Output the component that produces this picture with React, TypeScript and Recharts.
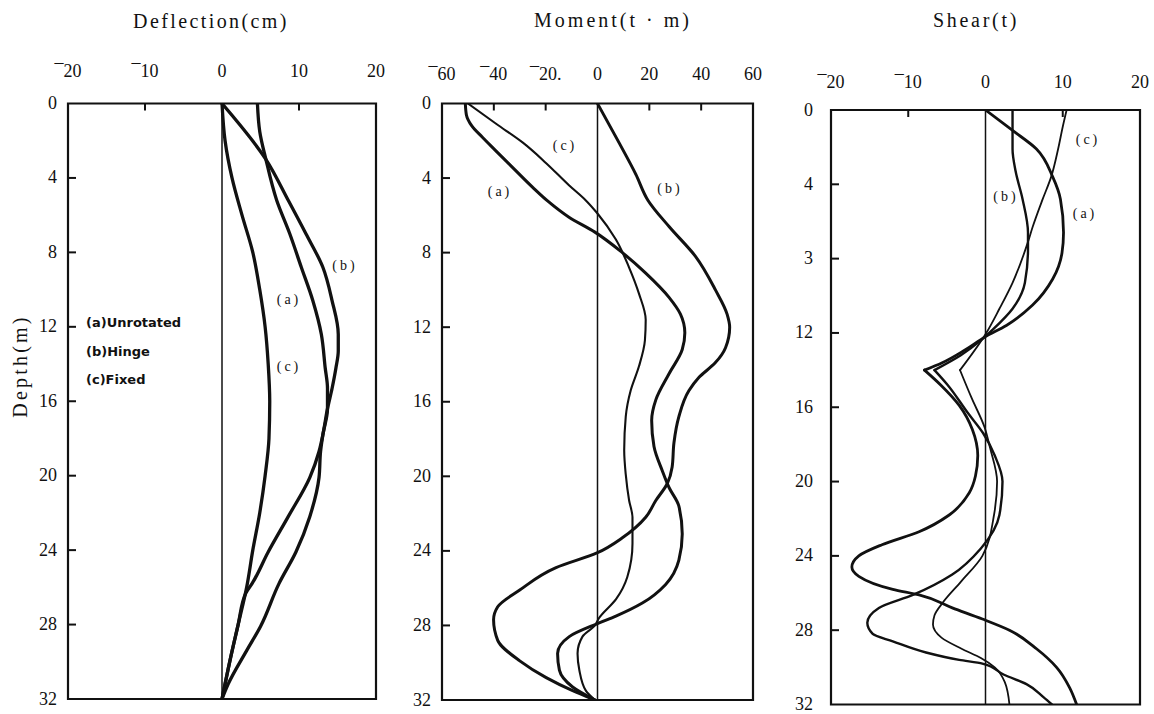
import React from 'react';
import { LineChart, Line, XAxis, YAxis, ReferenceLine, ReferenceArea } from 'recharts';

// ---------- axis ticks & labels ----------
const depthTicks = [0, 4, 8, 12, 16, 20, 24, 28, 32];
const depthTickLabels = ['0', '4', '8', '12', '16', '20', '24', '28', '32'];
const shearDepthTickLabels = ['0', '4', '3', '12', '16', '20', '24', '28', '32'];

const deflTicks = [-20, -10, 0, 10, 20];
const deflTickLabels = ['\u00AF20', '\u00AF10', '0', '10', '20'];
const momentTicks = [-60, -40, -20, 0, 20, 40, 60];
const momentTickLabels = ['\u00AF60', '\u00AF40', '\u00AF20.', '0', '20', '40', '60'];
const shearTicks = [-20, -10, 0, 10, 20];
const shearTickLabels = ['\u00AF20', '\u00AF10', '0', '10', '20'];

const titles = ['Deflection(cm)', 'Moment(t \u00B7 m)', 'Shear(t)'];
const legendLines = ['(a)Unrotated', '(b)Hinge', '(c)Fixed'];

// ---------- Deflection (cm) ----------
const deflDepthA = [0, 1.5, 3, 5.2, 7, 8.8, 10.6, 12.4, 14.2, 15.3, 16.4, 17.8, 18.7, 20.1, 22.2, 24.1, 25.8, 28.1, 29.4, 31.2, 32];
const deflA = [4.6, 4.9, 5.7, 7.1, 8.8, 10.3, 11.8, 12.9, 13.4, 13.7, 13.7, 13.1, 12.8, 12.6, 11.4, 9.6, 7.4, 5.0, 3.2, 0.8, 0];
const deflDepthB = [0, 3, 5.2, 7, 8.8, 10.6, 12.4, 13.3, 14.2, 15.3, 16.4, 17.8, 18.7, 20.1, 22.2, 24.1, 25.8, 26.3, 28, 30, 32];
const deflB = [0, 5.7, 8.6, 10.9, 13.1, 14.3, 15.1, 15.1, 14.8, 14.3, 13.7, 13.1, 12.6, 11.4, 8.6, 6.0, 3.9, 3.1, 2.1, 1.0, 0];
const deflDepthC = [0, 2, 4, 6, 8, 10, 12, 14, 16, 18, 20, 22, 24, 26, 28, 30, 32];
const deflC = [0, 0.4, 1.3, 2.6, 4.0, 4.9, 5.6, 6.0, 6.2, 6.1, 5.6, 4.9, 4.0, 3.2, 2.1, 1.0, 0];

// ---------- Moment (t·m) ----------
const momDepthA = [0, 0.6, 1.2, 1.8, 2.5, 3.4, 4.5, 5.2, 6.1, 6.9, 8.0, 9.1, 10.4, 11.3, 12.3, 13.2, 14.5, 15.9, 17.0, 18.4, 19.7, 20.6, 21.6, 23.1, 24.5, 25.8, 26.8, 27.5, 27.9, 28.6, 29.5, 30.4, 31.3, 32];
const momA = [-51, -50.6, -48.5, -44.5, -39.5, -33, -25, -19.5, -11, -1, 9.6, 18.6, 27.6, 32, 33.7, 32.7, 27.6, 22.5, 20.9, 21.8, 25, 27.6, 31.4, 32.7, 31.4, 26.3, 17.3, 7.1, 0, -10.9, -15.4, -14.7, -9.6, -1];
const momDepthB = [0, 2.1, 3.8, 5.2, 6.6, 8.2, 10.0, 11.3, 12.0, 13.1, 13.9, 14.7, 15.4, 16.8, 18.2, 19.5, 20.4, 21.3, 22.2, 23.3, 24.1, 24.9, 26.1, 27.0, 27.7, 28.8, 29.9, 30.8, 31.5, 32];
const momB = [0, 8.3, 14.8, 19.5, 27.6, 37.8, 45.5, 50, 51, 49.4, 45.5, 39.1, 35.3, 31.4, 29.5, 28.8, 26.9, 22.5, 18.6, 9.6, 0, -16, -30, -38.5, -40.1, -38.5, -30, -19.8, -9.6, -1];
const momDepthC = [0, 1.1, 2.1, 3.2, 4.4, 5.2, 5.9, 7.3, 8.8, 10.2, 11.6, 12.7, 14.1, 15.4, 16.8, 18.6, 19.9, 21.3, 22.2, 23.6, 25.4, 26.6, 27.6, 28.0, 28.6, 29.5, 30.4, 31.5, 32];
const momC = [-50, -39, -28.8, -19.8, -10.9, -4.5, 0, 7.1, 12.2, 16, 18.6, 18.3, 16, 12.8, 10.9, 10.3, 10.9, 12.2, 13.5, 13.5, 11.5, 7.1, 0.6, -1, -5.8, -7.7, -7, -4.5, -1];

// ---------- Shear (t) ----------
const shearDepthA = [0, 1.1, 2.1, 3.6, 4.8, 6.6, 7.7, 9.1, 10.5, 11.6, 12.2, 12.9, 13.6, 14.0, 14.8, 15.9, 17.2, 18.6, 19.7, 20.6, 21.8, 22.7, 23.4, 24.0, 24.6, 25.1, 25.8, 26.1, 26.8, 27.4, 28.0, 29.0, 30.0, 31.1, 32];
const shearA = [0, 3.5, 6.6, 8.7, 9.7, 10.1, 9.9, 8.7, 6.1, 2.7, 0, -2.6, -5.6, -7.9, -5.8, -3.4, -1.7, -1.0, -1.3, -2.1, -4.7, -8.6, -13.4, -16.4, -17.3, -16.4, -12, -8.6, -4.3, -0.4, 3.1, 6.6, 9.2, 10.9, 11.8];
const shearDepthB = [0, 2.1, 3.3, 4.8, 6.6, 7.5, 9.3, 10.7, 11.8, 12.4, 13.2, 14.0, 14.8, 16.3, 17.4, 18.6, 20.0, 21.8, 23.6, 25.0, 26.1, 26.8, 27.6, 28.2, 28.6, 29.2, 29.6, 29.8, 30.4, 30.9, 31.6, 32];
const shearB = [3.5, 3.5, 3.9, 4.8, 5.5, 5.5, 5.1, 3.5, 1.0, -0.6, -3.2, -6.6, -4.9, -2.3, -0.3, 1.2, 2.2, 1.8, -0.6, -4.3, -9.4, -13.8, -15.3, -14.6, -12, -7.7, -3.4, -0.4, 2.4, 5.3, 7.5, 8.6];
const shearDepthC = [0, 0.9, 2.1, 3.6, 4.8, 6.3, 7.1, 9.3, 10.7, 12.0, 14.0, 15.5, 17.1, 18.2, 20.0, 21.8, 24.0, 25.4, 26.5, 27.2, 27.7, 28.4, 29.0, 29.5, 30.0, 30.8, 32];
const shearC = [10.5, 10.0, 9.4, 8.5, 7.4, 6.1, 5.5, 3.5, 1.8, 0.1, -3.3, -1.8, -0.1, 0.6, 1.5, 1.1, -0.4, -3.2, -5.5, -6.6, -6.8, -5.7, -3.1, -0.6, 1.2, 2.5, 3.1];
const shearKinkDepth = 14.0;

// ---------- helpers ----------
type Pt = { d: number; v: number };
const pts = (ds: number[], vs: number[]): Pt[] => ds.map((d, i) => ({ d, v: vs[i] }));
const splitAt = (p: Pt[], depth: number): Pt[][] => [p.filter((q) => q.d <= depth), p.filter((q) => q.d >= depth)];

const SERIF = "'Liberation Serif', 'Times New Roman', 'DejaVu Serif', serif";
const SANS = "'DejaVu Sans', 'Liberation Sans', sans-serif";
const INK = '#111';

type Series = { data: Pt[]; w: number };

type PanelProps = {
  margin: { top: number; right: number; bottom: number; left: number };
  xDomain: [number, number];
  xTicks: number[];
  xLabels: string[];
  innerXTicks: number[];
  yLabels: string[];
  yGap: number;
  xGap: number;
  series: Series[];
};

function Panel({ margin, xDomain, xTicks, xLabels, innerXTicks, yLabels, yGap, xGap, series }: PanelProps) {
  const renderXTick = (p: any) => {
    const val = p.payload.value;
    const i = xTicks.indexOf(val);
    const top = p.y + xGap;
    return (
      <g>
        {innerXTicks.includes(val) && (
          <line x1={p.x} x2={p.x} y1={top} y2={top + 7} stroke={INK} strokeWidth={2} />
        )}
        <text x={p.x} y={p.y} textAnchor="middle" fontFamily={SERIF} fontSize={18} fill={INK}>
          {xLabels[i]}
        </text>
      </g>
    );
  };
  const renderYTick = (p: any) => {
    const val = p.payload.value;
    const i = depthTicks.indexOf(val);
    const left = p.x + yGap;
    return (
      <g>
        {val !== 0 && val !== 32 && (
          <line x1={left} x2={left + 8} y1={p.y} y2={p.y} stroke={INK} strokeWidth={2} />
        )}
        <text x={p.x} y={p.y + 5.5} textAnchor="end" fontFamily={SERIF} fontSize={18} fill={INK}>
          {yLabels[i]}
        </text>
      </g>
    );
  };
  return (
    <div style={{ position: 'absolute', left: 0, top: 0 }}>
      <LineChart width={1154} height={714} layout="vertical" margin={margin}>
        <XAxis
          type="number"
          orientation="top"
          domain={xDomain}
          ticks={xTicks}
          interval={0}
          allowDataOverflow
          axisLine={false}
          tickLine={false}
          tickSize={0}
          tickMargin={xGap}
          height={30}
          tick={renderXTick}
        />
        <YAxis
          type="number"
          dataKey="d"
          domain={[0, 32]}
          ticks={depthTicks}
          interval={0}
          allowDataOverflow
          axisLine={false}
          tickLine={false}
          tickSize={0}
          tickMargin={yGap}
          width={60}
          tick={renderYTick}
        />
        <ReferenceArea
          x1={xDomain[0]}
          x2={xDomain[1]}
          y1={0}
          y2={32}
          fill="#fff"
          fillOpacity={0}
          stroke={INK}
          strokeWidth={2.2}
          ifOverflow="visible"
        />
        <ReferenceLine x={0} stroke={INK} strokeWidth={1.5} ifOverflow="visible" />
        {series.map((s, k) => (
          <Line
            key={k}
            data={s.data}
            dataKey="v"
            type="monotone"
            stroke={INK}
            strokeWidth={s.w}
            strokeLinejoin="round"
            strokeLinecap="round"
            dot={false}
            activeDot={false}
            isAnimationActive={false}
          />
        ))}
      </LineChart>
    </div>
  );
}

export default function App() {
  const deflSeries: Series[] = [
    { data: pts(deflDepthA, deflA), w: 3.3 },
    { data: pts(deflDepthB, deflB), w: 3.3 },
    { data: pts(deflDepthC, deflC), w: 3.3 },
  ];
  const momSeries: Series[] = [
    { data: pts(momDepthA, momA), w: 3 },
    { data: pts(momDepthB, momB), w: 3 },
    { data: pts(momDepthC, momC), w: 2.1 },
  ];
  const [sa1, sa2] = splitAt(pts(shearDepthA, shearA), shearKinkDepth);
  const [sb1, sb2] = splitAt(pts(shearDepthB, shearB), shearKinkDepth);
  const [sc1, sc2] = splitAt(pts(shearDepthC, shearC), shearKinkDepth);
  const shearSeries: Series[] = [
    { data: sa1, w: 2.8 },
    { data: sa2, w: 2.8 },
    { data: sb1, w: 2.4 },
    { data: sb2, w: 2.4 },
    { data: sc1, w: 1.8 },
    { data: sc2, w: 1.8 },
  ];

  const curveLabel = (x: number, y: number, t: string) => (
    <text x={x} y={y + 5} textAnchor="middle" fontFamily={SERIF} fontSize={14} letterSpacing={3} fill={INK}>
      {t}
    </text>
  );

  return (
    <div style={{ position: 'absolute', left: 0, top: 0, width: 1154, height: 714, background: '#fff', overflow: 'hidden' }}>
      <Panel
        margin={{ top: 73.5, right: 778, bottom: 15, left: 8 }}
        xDomain={[-20, 20]}
        xTicks={deflTicks}
        xLabels={deflTickLabels}
        innerXTicks={[-10, 10]}
        yLabels={depthTickLabels}
        yGap={11}
        xGap={27}
        series={deflSeries}
      />
      <Panel
        margin={{ top: 73.5, right: 401, bottom: 14, left: 382 }}
        xDomain={[-60, 60]}
        xTicks={momentTicks}
        xLabels={momentTickLabels}
        innerXTicks={[-40, -20, 20, 40]}
        yLabels={depthTickLabels}
        yGap={11}
        xGap={24}
        series={momSeries}
      />
      <Panel
        margin={{ top: 80, right: 14, bottom: 9.5, left: 771 }}
        xDomain={[-20, 20]}
        xTicks={shearTicks}
        xLabels={shearTickLabels}
        innerXTicks={[-10, 10]}
        yLabels={shearDepthTickLabels}
        yGap={18}
        xGap={22}
        series={shearSeries}
      />
      <svg width={1154} height={714} style={{ position: 'absolute', left: 0, top: 0, pointerEvents: 'none' }}>
        <text x={211} y={28} textAnchor="middle" fontFamily={SERIF} fontSize={20} letterSpacing={2.4} fill={INK}>{titles[0]}</text>
        <text x={613} y={27} textAnchor="middle" fontFamily={SERIF} fontSize={20} letterSpacing={3} fill={INK}>{titles[1]}</text>
        <text x={976} y={27} textAnchor="middle" fontFamily={SERIF} fontSize={20} letterSpacing={2.7} fill={INK}>{titles[2]}</text>
        <text
          x={0}
          y={0}
          transform="translate(27,366) rotate(-90)"
          textAnchor="middle"
          fontFamily={SERIF}
          fontSize={20}
          letterSpacing={3.2}
          fill={INK}
        >
          Depth(m)
        </text>
        {legendLines.map((t, i) => (
          <text key={t} x={86} y={327 + i * 28.5} fontFamily={SANS} fontWeight="bold" fontSize={13} fill={INK}>
            {t}
          </text>
        ))}
        {curveLabel(345, 265, '(b)')}
        {curveLabel(289, 299, '(a)')}
        {curveLabel(289, 366, '(c)')}
        {curveLabel(565, 145, '(c)')}
        {curveLabel(500, 191, '(a)')}
        {curveLabel(670, 188, '(b)')}
        {curveLabel(1088, 139, '(c)')}
        {curveLabel(1006, 196, '(b)')}
        {curveLabel(1085, 213, '(a)')}
      </svg>
    </div>
  );
}
